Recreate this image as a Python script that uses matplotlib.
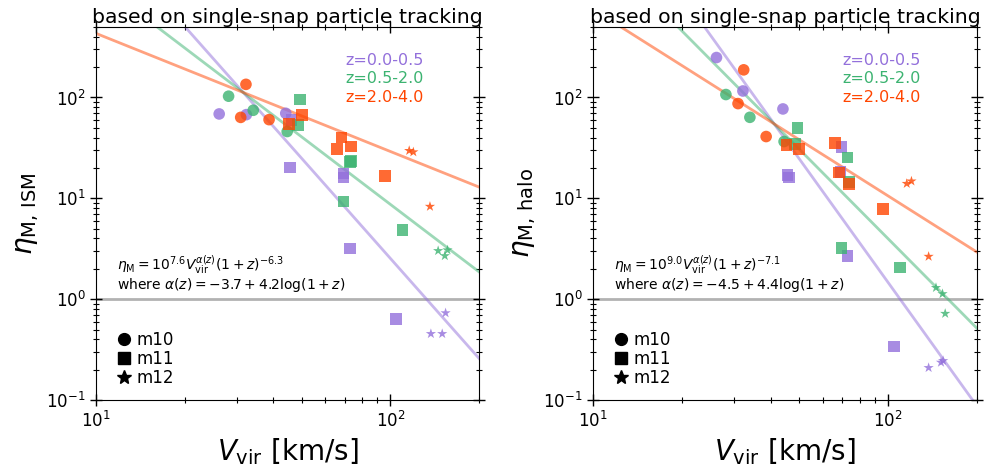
import numpy as np
import matplotlib
matplotlib.use("Agg")
import matplotlib.pyplot as plt
from matplotlib.lines import Line2D

# redshift bins and their colours
z_labels = ["z=0.0-0.5", "z=0.5-2.0", "z=2.0-4.0"]
z_mid = [0.25, 1.25, 3.0]
z_colors = ["mediumpurple", "mediumseagreen", "orangered"]

# ---------------- ISM mass loading (left panel) ----------------
# m10 (circles): Vvir [km/s], eta for each z bin
ism_m10_v = [[26.2, 32.4, 44.1], [28.2, 34.2, 44.6], [32.3, 31.0, 38.7]]
ism_m10_eta = [[68.7, 67.6, 69.7], [103, 74.7, 46], [135, 63.5, 60.3]]
# m11 (squares)
ism_m11_v = [[46.1, 69.3, 69.3, 45.6, 72.8, 104.4],
             [49.3, 48.6, 73.5, 73.0, 69.3, 109.9],
             [45.2, 50.0, 68.2, 65.9, 73.5, 95.9]]
ism_m11_eta = [[60, 17.7, 16.1, 20.3, 3.19, 0.636],
               [95.5, 53.7, 23.6, 22.8, 9.33, 4.86],
               [54.6, 67.2, 40.1, 30.9, 32.6, 16.7]]
# m12 (stars)
ism_m12_v = [[153.9, 137.2, 149.9], [145.2, 153.0, 156.2], [115.8, 119.6, 136.2]]
ism_m12_eta = [[0.73, 0.454, 0.454], [3.02, 2.69, 3.07], [29.7, 28.8, 8.3]]

# ---------------- halo mass loading (right panel) ----------------
halo_m10_v = [[26.2, 32.2, 44.0], [28.2, 34.0, 44.4], [32.4, 31.0, 38.6]]
halo_m10_eta = [[249, 116, 77], [107, 63.6, 36.6], [188, 87, 41]]
halo_m11_v = [[45.6, 46.2, 69.5, 69.0, 72.8, 104.7],
              [49.3, 48.4, 72.8, 73.5, 69.5, 109.6],
              [45.2, 49.9, 65.9, 68.2, 73.5, 96.1]]
halo_m11_eta = [[17.0, 16.1, 32.1, 18.3, 2.69, 0.339],
                [49.8, 34.7, 25.3, 14.6, 3.21, 2.06],
                [33.9, 30.9, 35.2, 18.1, 13.8, 7.88]]
halo_m12_v = [[137.1, 151.0, 153.5], [145.2, 152.8, 156.0], [115.6, 119.9, 137.1]]
halo_m12_eta = [[0.209, 0.236, 0.245], [1.30, 1.13, 0.72], [14.0, 14.8, 2.65]]

# fit: eta = 10^A * V^alpha(z) * (1+z)^B,  alpha(z) = a0 + a1*log(1+z)
ism_fit = dict(A=7.6, B=-6.3, a0=-3.7, a1=4.2)
halo_fit = dict(A=9.0, B=-7.1, a0=-4.5, a1=4.4)

x_ticks = [10, 100]
y_ticks = [0.1, 1, 10, 100]

panels = [
    dict(m10=(ism_m10_v, ism_m10_eta), m11=(ism_m11_v, ism_m11_eta),
         m12=(ism_m12_v, ism_m12_eta), fit=ism_fit,
         ylabel=r"$\eta_{\rm M,\,ISM}$",
         formula=[r"$\eta_{\rm M}=10^{7.6}V_{\rm vir}^{\alpha(z)}(1+z)^{-6.3}$",
                  r"where $\alpha(z)=-3.7+4.2{\rm log}(1+z)$"]),
    dict(m10=(halo_m10_v, halo_m10_eta), m11=(halo_m11_v, halo_m11_eta),
         m12=(halo_m12_v, halo_m12_eta), fit=halo_fit,
         ylabel=r"$\eta_{\rm M,\,halo}$",
         formula=[r"$\eta_{\rm M}=10^{9.0}V_{\rm vir}^{\alpha(z)}(1+z)^{-7.1}$",
                  r"where $\alpha(z)=-4.5+4.4{\rm log}(1+z)$"]),
]

fig = plt.figure(figsize=(9.88, 4.73), dpi=100)
axes = [fig.add_axes([0.0972, 0.1543, 0.3877, 0.7886]),
        fig.add_axes([0.6002, 0.1543, 0.3887, 0.7886])]

vgrid = np.logspace(1, np.log10(200), 200)

for ax, p in zip(axes, panels):
    f = p["fit"]
    ax.axhline(1.0, color="gray", alpha=0.6, lw=2, zorder=1)
    for i, (z, c) in enumerate(zip(z_mid, z_colors)):
        alpha_z = f["a0"] + f["a1"] * np.log10(1 + z)
        eta_fit = 10 ** f["A"] * vgrid ** alpha_z * (1 + z) ** f["B"]
        ax.plot(vgrid, eta_fit, color=c, alpha=0.5, lw=2, zorder=2)
    for i, c in enumerate(z_colors):
        ax.scatter(p["m10"][0][i], p["m10"][1][i], marker="o", s=70,
                   color=c, alpha=0.8, edgecolors="none", zorder=3)
        ax.scatter(p["m11"][0][i], p["m11"][1][i], marker="s", s=70,
                   color=c, alpha=0.8, edgecolors="none", zorder=3)
        ax.scatter(p["m12"][0][i], p["m12"][1][i], marker="*", s=60,
                   color=c, alpha=0.8, edgecolors="none", zorder=3)

    ax.set_xscale("log")
    ax.set_yscale("log")
    ax.set_xlim(10, 200)
    ax.set_ylim(0.1, 500)
    ax.set_xticks(x_ticks)
    ax.set_yticks(y_ticks)
    ax.tick_params(which="both", direction="inout", top=True, right=True,
                   labelsize=12)
    ax.tick_params(which="major", length=8, width=1)
    ax.tick_params(which="minor", length=5, width=0.8)
    ax.set_xlabel(r"$V_{\rm vir}$ [km/s]", fontsize=20)
    ax.set_ylabel(p["ylabel"], fontsize=20)
    ax.set_title("based on single-snap particle tracking", fontsize=14.7, pad=3)

    for j, (lab, c) in enumerate(zip(z_labels, z_colors)):
        ax.text(0.65, 0.9115 - j * 0.0496, lab, color=c, fontsize=11.5,
                va="center", transform=ax.transAxes)
    ax.text(0.055, 0.362, p["formula"][0], fontsize=10, va="center",
            transform=ax.transAxes)
    ax.text(0.055, 0.308, p["formula"][1], fontsize=10, va="center",
            transform=ax.transAxes)

    handles = [Line2D([], [], marker=m, color="black", ls="none", markersize=ms)
               for m, ms in (("o", 8.5), ("s", 8.5), ("*", 10))]
    ax.legend(handles, ["m10", "m11", "m12"], loc="lower left", frameon=False,
              fontsize=12, handletextpad=0.2, borderaxespad=0.0,
              labelspacing=0.05, handlelength=1.0,
              bbox_to_anchor=(0.035, 0.018))

fig.savefig("out.png", dpi=100)
